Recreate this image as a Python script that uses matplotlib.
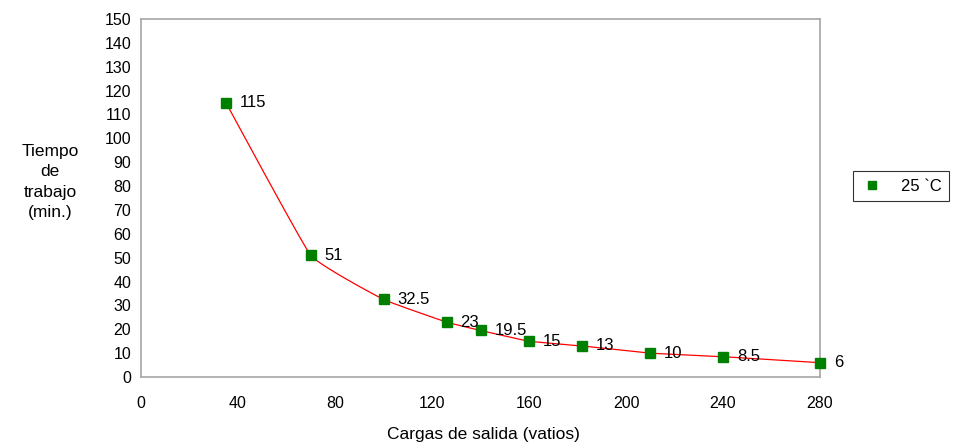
import numpy as np
import matplotlib
matplotlib.use("Agg")
import matplotlib.pyplot as plt

plt.rcParams['font.family'] = ['Liberation Sans', 'DejaVu Sans']

cargas = [35, 70, 100, 126, 140, 160, 182, 210, 240, 280]
tiempo = [115, 51, 32.5, 23, 19.5, 15, 13, 10, 8.5, 6]
etiquetas = ["115", "51", "32.5", "23", "19.5", "15", "13", "10", "8.5", "6"]
x_ticks = [0, 40, 80, 120, 160, 200, 240, 280]
y_ticks = list(range(0, 151, 10))
serie = "25 `C"


def smooth(x, y, n=30, t=0.15):
    x = np.asarray(x, float); y = np.asarray(y, float)
    px = np.concatenate([[x[0]], x, [x[-1]]])
    py = np.concatenate([[y[0]], y, [y[-1]]])
    xs, ys = [], []
    for i in range(1, len(px) - 2):
        p0 = np.array([px[i - 1], py[i - 1]]); p1 = np.array([px[i], py[i]])
        p2 = np.array([px[i + 1], py[i + 1]]); p3 = np.array([px[i + 2], py[i + 2]])
        c1 = p1 + (p2 - p0) * t / 3
        c2 = p2 - (p3 - p1) * t / 3
        s = np.linspace(0, 1, n)[:, None]
        b = (1 - s) ** 3 * p1 + 3 * (1 - s) ** 2 * s * c1 + 3 * (1 - s) * s ** 2 * c2 + s ** 3 * p2
        xs.extend(b[:, 0]); ys.extend(b[:, 1])
    return xs, ys


fig = plt.figure(figsize=(9.66, 4.47), dpi=100)
ax = fig.add_axes([141 / 966, 1 - 377 / 447, (820 - 141) / 966, (377 - 19) / 447])

sx, sy = smooth(cargas, tiempo)
ax.plot(sx, sy, color='red', lw=0.9, zorder=2)
ax.plot(cargas, tiempo, ls='none', marker='s', ms=7.5, color='#008000',
        markeredgecolor='#008000', zorder=3, clip_on=False, label=serie)

for xv, yv, lab in zip(cargas, tiempo, etiquetas):
    ax.annotate(lab, (xv, yv), xytext=(10, 0), textcoords='offset points',
                va='center', ha='left', fontsize=12, color='black',
                annotation_clip=False)

ax.set_xlim(0, 280)
ax.set_ylim(0, 150)
ax.set_xticks(x_ticks)
ax.set_yticks(y_ticks)
ax.tick_params(axis='both', length=0, labelsize=11.5)
ax.tick_params(axis='x', pad=14)
ax.tick_params(axis='y', pad=7)
for sp in ax.spines.values():
    sp.set_color('#a6a6a6')
    sp.set_linewidth(1.2)

fig.text(483 / 966, 1 - 435 / 447, "Cargas de salida (vatios)", ha='center', va='center', fontsize=12.5)
fig.text(50 / 966, 1 - 182 / 447, "Tiempo\nde\ntrabajo\n(min.)", ha='center', va='center',
         fontsize=12.5, linespacing=1.45)

leg = fig.legend(loc='center', bbox_to_anchor=(901 / 966, 1 - 186 / 447), frameon=True,
                 fancybox=False, edgecolor='black', fontsize=12, handlelength=1.4,
                 handletextpad=1.0, borderpad=0.45, borderaxespad=0, markerscale=0.85)
leg.get_frame().set_linewidth(0.8)

fig.savefig("out.png", dpi=100)
